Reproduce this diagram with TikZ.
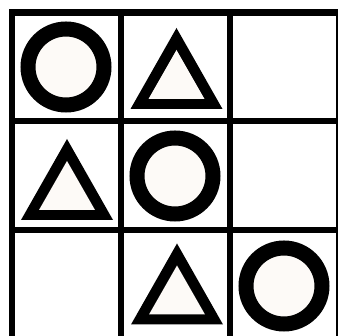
\documentclass[tikz,border=0pt]{standalone}
\definecolor{paper}{HTML}{FDFAF7}
\tikzset{
  gridline/.style={line width=6.5pt},
  ring/.style={line width=15pt, fill=paper},
}
\begin{document}
\begin{tikzpicture}[x=1pt,y=-1pt]
  \useasboundingbox (0,0) rectangle (338,336);
  \clip (0,0) rectangle (338,336);
  \fill[white] (0,0) rectangle (338,336);
  % grid
  \draw[gridline] (12,12.5) rectangle (339,339);
  \draw[gridline] (121,12.5) -- (121,339);
  \draw[gridline] (230,12.5) -- (230,339);
  \draw[gridline] (12,121) -- (339,121);
  \draw[gridline] (12,230) -- (339,230);
  % circles
  \foreach \cx/\cy in {66/67, 175/176, 284/286}
    \draw[ring] (\cx,\cy) circle[radius=38];
  % triangles
  \foreach \cx/\cy in {176.5/68, 67/179, 177/283.5} {
    \fill (\cx,\cy-40) -- (\cx-46,\cy+41) -- (\cx+46,\cy+41) -- cycle;
    \fill[paper] (\cx,\cy-18) -- (\cx-28,\cy+31) -- (\cx+28,\cy+31) -- cycle;
  }
\end{tikzpicture}
\end{document}
